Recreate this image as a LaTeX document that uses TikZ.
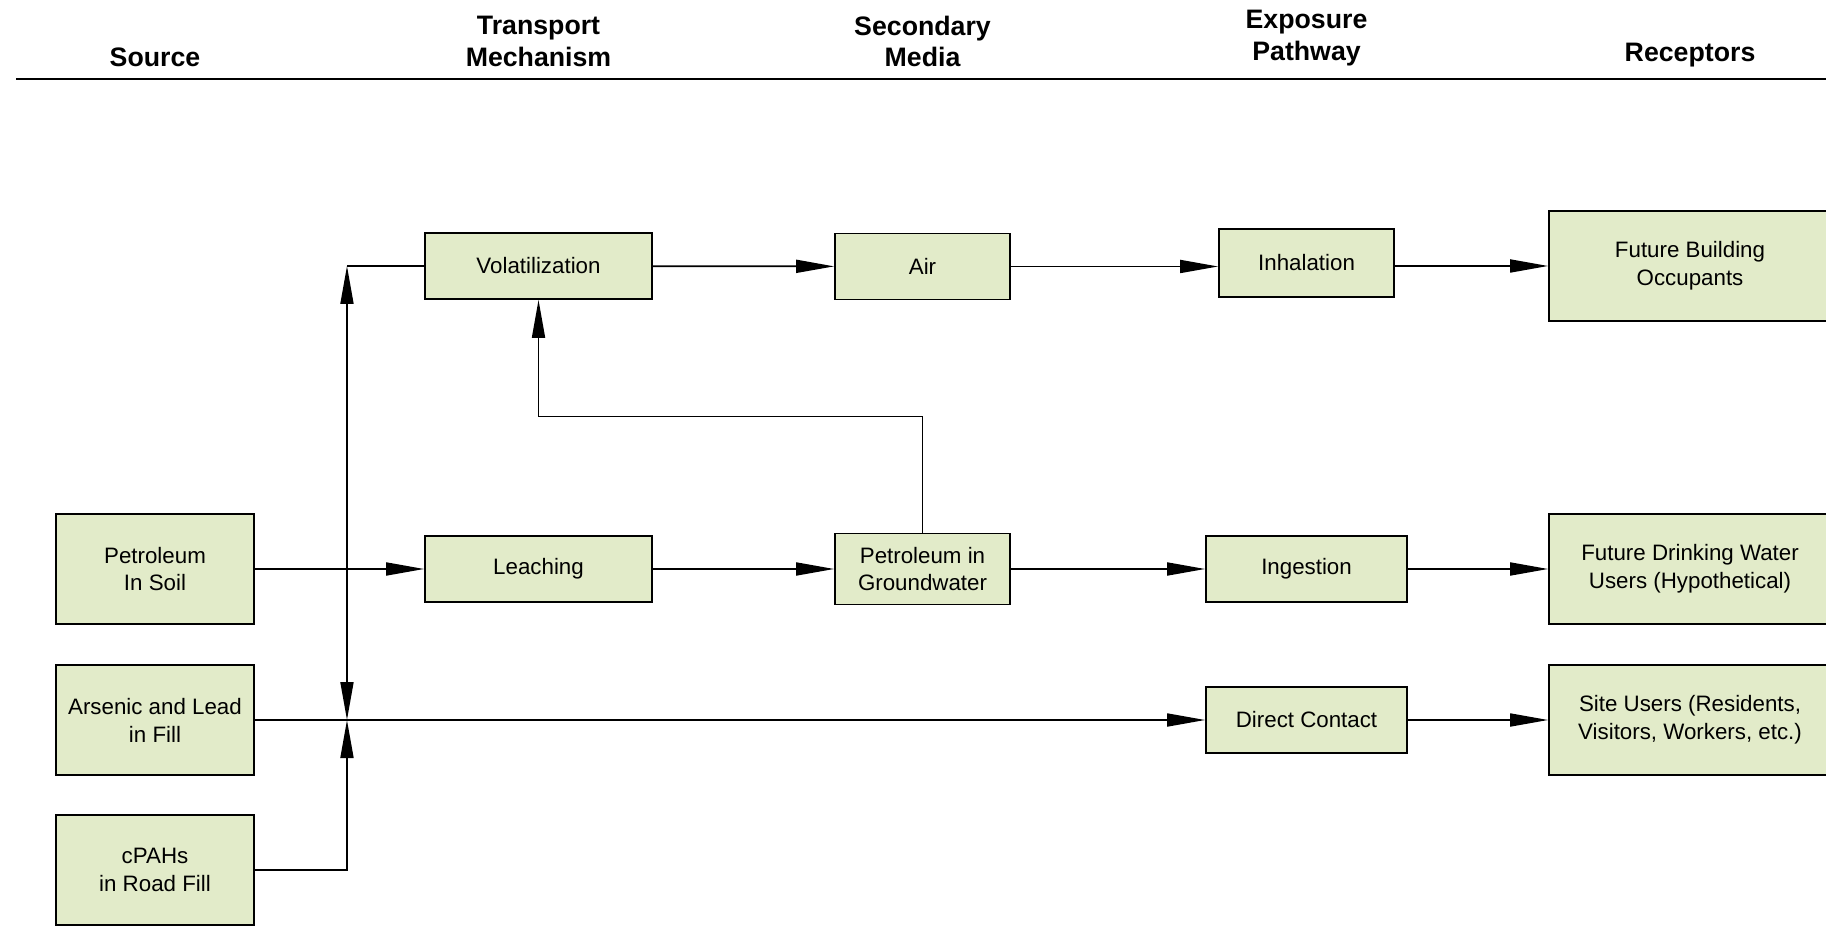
\documentclass[tikz,border=0pt]{standalone}
\usepackage{fontspec}
\setmainfont{Liberation Sans}
\usepackage{tikz}
\usetikzlibrary{positioning,arrows.meta}
\definecolor{sage}{RGB}{226,235,201}

\begin{document}
\begin{tikzpicture}[
  box/.style={draw, line width=1pt, fill=sage, align=center, inner sep=2pt, font=\fontsize{12.7}{15.9}\selectfont},
  src/.style={box, minimum width=3.96cm, minimum height=2.2cm},
  trans/.style={box, minimum width=4.54cm, minimum height=1.32cm},
  media/.style={box, minimum width=3.5cm, minimum height=1.32cm},
  path/.style={box, minimum width=4.02cm, minimum height=1.32cm},
  rec/.style={box, minimum width=5.64cm, minimum height=2.2cm},
  head/.style={align=center, text depth=0pt, font=\fontsize{15.2}{17.9}\selectfont\bfseries},
  arr/.style={-{Triangle[length=0.76cm, width=0.26cm]}, line width=1pt},
  darr/.style={{Triangle[length=0.76cm, width=0.26cm]}-{Triangle[length=0.76cm, width=0.26cm]}, line width=1pt},
  line/.style={line width=1pt}
]
\useasboundingbox (0,0) rectangle (36.52,18.56);

\node[src] (soil) at (3.10,7.18) {Petroleum\\In Soil};
\node[src, below=0.785cm of soil] (fill) {Arsenic and Lead\\in Fill};
\node[src, below=0.765cm of fill] (cpah) {cPAHs\\in Road Fill};

\node[trans, right=3.385cm of soil] (leach) {Leaching};
\node[trans, above=4.705cm of leach] (vol) {Volatilization};
\node[media, right=3.625cm of leach, minimum height=1.42cm] (gw) {Petroleum in\\Groundwater};
\node[media, above=4.645cm of gw] (air) {Air};
\node[path, right=3.885cm of gw] (ingest) {Ingestion};
\node[path, above=4.745cm of ingest, minimum width=3.5cm, minimum height=1.36cm] (inhal) {Inhalation};
\node[path, below=1.665cm of ingest] (contact) {Direct Contact};
\node[rec, right=2.805cm of ingest] (drink) {Future Drinking Water\\Users (Hypothetical)};
\node[rec, above=3.825cm of drink] (occ) {Future Building\\Occupants};
\node[rec, right=2.805cm of contact] (users) {Site Users (Residents,\\Visitors, Workers, etc.)};

\node[head] (hsrc) at (soil |- 0,17.42) {Source};
\node[head] (htrans) at (vol |- 0,17.73) {Transport\\Mechanism};
\node[head] (hmedia) at (air |- 0,17.73) {Secondary\\Media};
\node[head] (hpath) at (inhal |- 0,17.85) {Exposure\\Pathway};
\node[head] (hrec) at (occ |- 0,17.52) {Receptors};
\draw[line width=1.2pt] (0.32,16.98) -- (36.52,16.98);

\coordinate[right=1.842cm of fill] (jn);
\coordinate (corner) at (jn |- vol);

\draw[darr] (corner) -- (jn);
\draw[line] (corner) -- (vol.west);
\draw[arr] (cpah.east) -| (jn);
\draw[arr] (fill.east) -- (contact.west);
\draw[arr] (soil) -- (leach);
\draw[arr] (leach) -- (gw);
\draw[arr] (gw) -- (ingest);
\draw[arr] (ingest) -- (drink);
\draw[arr] (gw.north) -- ++(0,2.32) -| (vol.south);
\draw[arr] (vol) -- (air);
\draw[arr] (air.east) -- (air.east -| inhal.west);
\draw[arr] (inhal.east |- occ) -- (occ.west);
\draw[arr] (contact) -- (users);
\end{tikzpicture}
\end{document}
